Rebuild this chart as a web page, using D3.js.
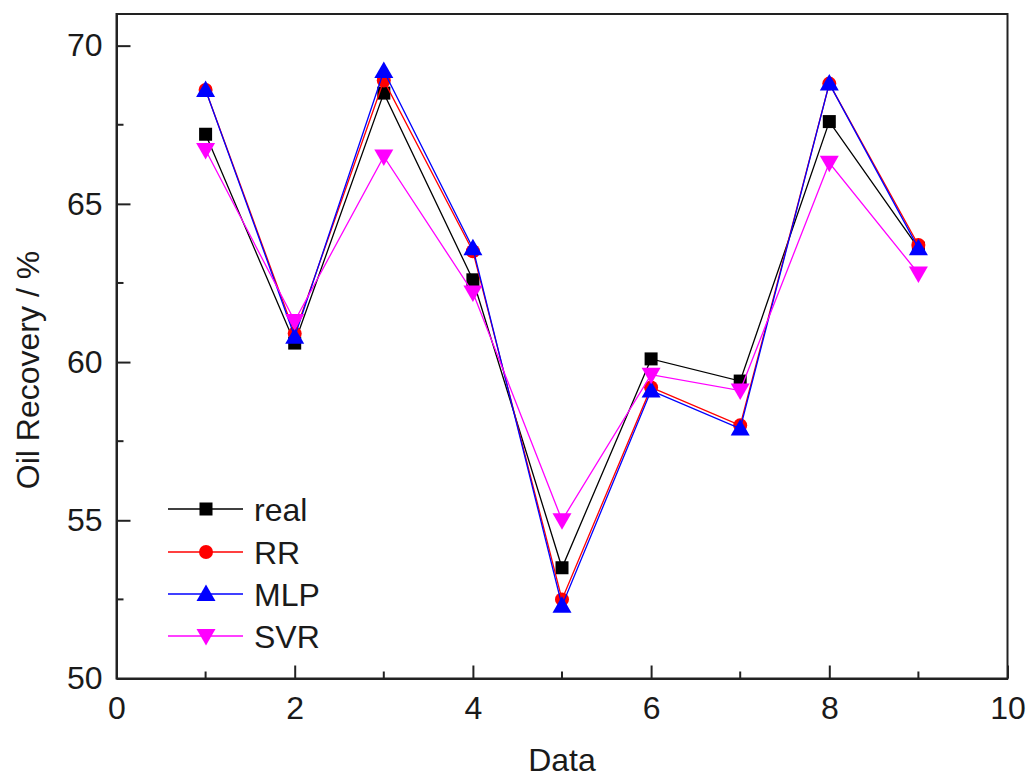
<!DOCTYPE html>
<html><head><meta charset="utf-8">
<script src="https://cdn.jsdelivr.net/npm/d3@7"></script>
<style>body{margin:0;background:#fff;} svg{display:block;}</style>
</head><body>
<svg id="chart" width="1030" height="779"></svg>
<script>
const dataIndex = [1,2,3,4,5,6,7,8,9];
const realValues = [67.2, 60.6, 68.5, 62.6, 53.5, 60.1, 59.4, 67.6, 63.6];
const rrValues   = [68.6, 60.9, 68.9, 63.5, 52.5, 59.2, 58.0, 68.8, 63.7];
const mlpValues  = [68.6, 60.8, 69.2, 63.6, 52.3, 59.1, 57.9, 68.8, 63.6];
const svrValues  = [66.7, 61.3, 66.5, 62.2, 55.0, 59.6, 59.1, 66.3, 62.8];
const seriesNames = ["real","RR","MLP","SVR"];
const xTicks = [0,2,4,6,8,10];
const yTicks = [50,55,60,65,70];

const series = [
  {name:"real", values:realValues, color:"#000000", symbol:"square"},
  {name:"RR", values:rrValues, color:"#ff0000", symbol:"circle"},
  {name:"MLP", values:mlpValues, color:"#0000ff", symbol:"up"},
  {name:"SVR", values:svrValues, color:"#ff00ff", symbol:"down"}
];

const svg = d3.select("#chart");
const L = 116.5, R = 1007.5, T = 14, B = 678.5;
const x = d3.scaleLinear().domain([0,10]).range([L,R]);
const y = d3.scaleLinear().domain([50,71]).range([B,T]);
const font = "Arial, 'Liberation Sans', sans-serif";
const ink = "#1a1a1a";

// frame
svg.append("rect").attr("x",L).attr("y",T).attr("width",R-L).attr("height",B-T)
  .attr("fill","none").attr("stroke","#222").attr("stroke-width",2);

// axes with inward ticks
const xAxis = d3.axisBottom(x).tickValues(xTicks).tickSizeInner(-13).tickSizeOuter(0).tickPadding(18).tickFormat(d3.format("d"));
const gx = svg.append("g").attr("transform",`translate(0,${B})`).call(xAxis);
const yAxis = d3.axisLeft(y).tickValues(yTicks).tickSizeInner(-14).tickSizeOuter(0).tickPadding(14).tickFormat(d3.format("d"));
const gy = svg.append("g").attr("transform",`translate(${L},0)`).call(yAxis);
[gx,gy].forEach(g=>{
  g.select(".domain").attr("stroke","#222").attr("stroke-width",2);
  g.selectAll(".tick line").attr("stroke","#222").attr("stroke-width",2);
  g.selectAll(".tick text").attr("font-family",font).attr("font-size",32).attr("fill",ink);
});
// minor ticks
const xMinor = d3.range(1,10,2);
svg.append("g").selectAll("line").data(xMinor).join("line")
  .attr("x1",d=>x(d)).attr("x2",d=>x(d)).attr("y1",B).attr("y2",B-7)
  .attr("stroke","#222").attr("stroke-width",2);
const yMinor = [52.5,57.5,62.5,67.5];
svg.append("g").selectAll("line").data(yMinor).join("line")
  .attr("x1",L).attr("x2",L+7).attr("y1",d=>y(d)).attr("y2",d=>y(d))
  .attr("stroke","#222").attr("stroke-width",2);

// axis titles
svg.append("text").attr("x",(L+R)/2).attr("y",771).attr("text-anchor","middle")
  .attr("font-family",font).attr("font-size",32).attr("fill",ink).text("Data");
svg.append("text").attr("transform",`translate(39,370) rotate(-90)`).attr("text-anchor","middle")
  .attr("font-family",font).attr("font-size",32).attr("fill",ink).text("Oil Recovery / %");

function drawMarker(g, sym, cx, cy, color){
  if(sym==="square"){
    g.append("rect").attr("x",cx-6.5).attr("y",cy-6.5).attr("width",13).attr("height",13).attr("fill",color);
  } else if(sym==="circle"){
    g.append("circle").attr("cx",cx).attr("cy",cy).attr("r",7).attr("fill",color);
  } else if(sym==="up"){
    g.append("path").attr("d",`M${cx},${cy-9.5}L${cx+9.5},${cy+7}L${cx-9.5},${cy+7}Z`).attr("fill",color);
  } else {
    g.append("path").attr("d",`M${cx},${cy+9.5}L${cx+9.5},${cy-7}L${cx-9.5},${cy-7}Z`).attr("fill",color);
  }
}

const line = d3.line().x((d,i)=>x(dataIndex[i])).y(d=>y(d));
series.forEach(s=>{
  const g = svg.append("g");
  g.append("path").attr("d",line(s.values)).attr("fill","none").attr("stroke",s.color).attr("stroke-width",1.3);
  s.values.forEach((v,i)=>drawMarker(g,s.symbol,x(dataIndex[i]),y(v),s.color));
});

// legend
const legY = [509,552,594,636];
series.forEach((s,i)=>{
  const g = svg.append("g");
  g.append("line").attr("x1",168).attr("x2",243).attr("y1",legY[i]).attr("y2",legY[i]).attr("stroke",s.color).attr("stroke-width",1.3);
  drawMarker(g,s.symbol,206,legY[i],s.color);
  g.append("text").attr("x",254).attr("y",legY[i]+11.5).attr("font-family",font).attr("font-size",32).attr("fill",ink).text(seriesNames[i]);
});
</script>
</body></html>
